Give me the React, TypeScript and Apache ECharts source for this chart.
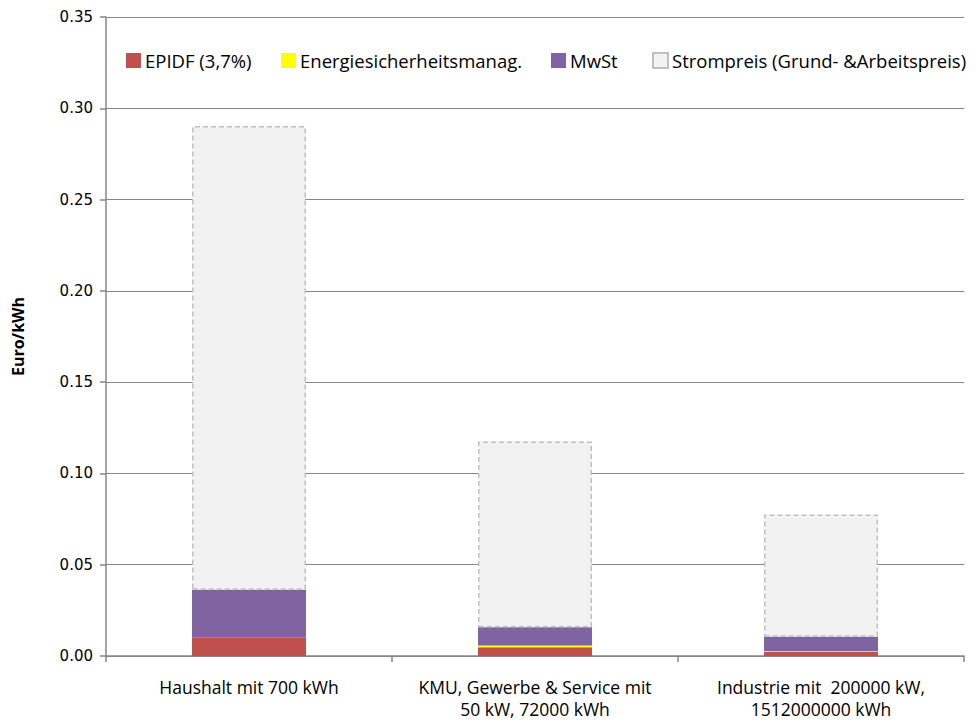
import React, { useEffect, useRef } from "react";
import * as echarts from "echarts";

const categories = [
  "Haushalt mit 700 kWh",
  "KMU, Gewerbe & Service mit\n50 kW, 72000 kWh",
  "Industrie mit  200000 kW,\n1512000000 kWh",
];
const epidf = [0.0100, 0.0048, 0.0025];
const energie = [0.0, 0.0009, 0.0003];
const mwst = [0.0263, 0.0101, 0.0077];
const strompreis = [0.2540, 0.1017, 0.0670];
const yTicks = [0, 0.05, 0.1, 0.15, 0.2, 0.25, 0.3, 0.35];

const seriesNames = [
  "EPIDF (3,7%)",
  "Energiesicherheitsmanag.",
  "MwSt",
  "Strompreis (Grund- &Arbeitspreis)",
];
const legendLefts = [121, 276, 546, 647];

const textFont = "'Open Sans', sans-serif";

export default function App() {
  const ref = useRef<HTMLDivElement>(null);
  useEffect(() => {
    if (!ref.current) return;
    const chart = echarts.init(ref.current, undefined, { renderer: "svg" });
    const barW = 114;
    chart.setOption({
      animation: false,
      backgroundColor: "#ffffff",
      grid: {
        left: 106,
        right: 12,
        top: 17,
        bottom: 66,
        containLabel: false,
        outerBoundsMode: "none",
      },
      legend: seriesNames.map((n, i) => ({
        data: [n],
        left: legendLefts[i],
        top: 46,
        itemWidth: 15,
        itemHeight: 15,
        itemGap: 4,
        icon: "rect",
        textStyle: { fontFamily: textFont, fontSize: 18.5, color: "#000", padding: [0, 0, 0, -1] },
      })),
      xAxis: {
        type: "category",
        data: categories,
        axisLine: { lineStyle: { color: "#868686", width: 1.5 } },
        axisTick: { show: true, length: 6, lineStyle: { color: "#868686", width: 1.5 } },
        axisLabel: {
          fontFamily: textFont,
          fontSize: 17.5,
          color: "#000",
          lineHeight: 22,
          margin: 20,
          interval: 0,
        },
      },
      yAxis: {
        type: "value",
        min: 0,
        max: 0.35,
        interval: 0.05,
        name: "Euro/kWh",
        nameLocation: "middle",
        nameGap: 80,
        nameTextStyle: { fontFamily: textFont, fontSize: 16, fontWeight: "bold", color: "#000" },
        axisLine: { show: true, lineStyle: { color: "#868686", width: 1.5 } },
        axisTick: { show: true, length: 6, lineStyle: { color: "#868686", width: 1.5 } },
        splitLine: { show: true, lineStyle: { color: "#868686", width: 1.2 } },
        axisLabel: {
          fontFamily: "'DejaVu Sans', sans-serif",
          fontSize: 15,
          color: "#000",
          margin: 13,
          formatter: (v: number) => (yTicks.some((t) => Math.abs(t - v) < 1e-9) ? v.toFixed(2) : ""),
        },
      },
      series: [
        {
          name: seriesNames[0],
          type: "bar",
          stack: "total",
          barWidth: barW,
          data: epidf,
          itemStyle: { color: "#c0504d" },
        },
        {
          name: seriesNames[1],
          type: "bar",
          stack: "total",
          barWidth: barW,
          data: energie,
          itemStyle: { color: "#ffff00" },
        },
        {
          name: seriesNames[2],
          type: "bar",
          stack: "total",
          barWidth: barW,
          data: mwst,
          itemStyle: { color: "#8064a2" },
        },
        {
          name: seriesNames[3],
          type: "bar",
          stack: "total",
          barWidth: barW,
          data: strompreis,
          itemStyle: {
            color: "#f2f2f2",
            borderColor: "#bfbfbf",
            borderWidth: 1.5,
            borderType: [5, 3],
          },
        },
      ],
    });
    return () => chart.dispose();
  }, []);
  return (
    <div
      ref={ref}
      style={{ position: "absolute", left: 0, top: 0, width: 976, height: 722 }}
    />
  );
}
